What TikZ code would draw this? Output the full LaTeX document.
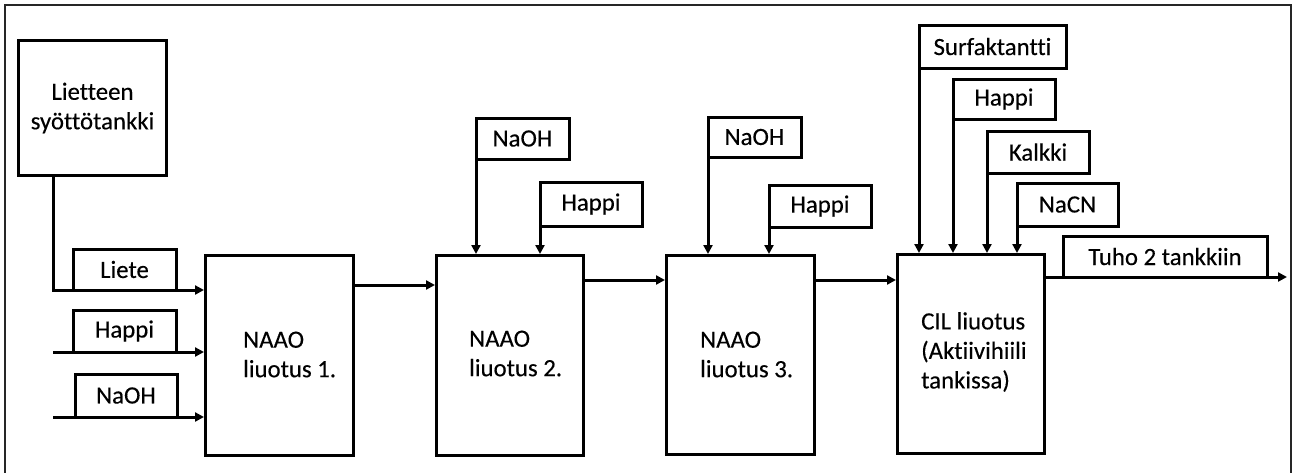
\documentclass[tikz,border=0pt]{standalone}
\usepackage{fontspec}
\setmainfont{Carlito}[Ligatures=NoCommon, FakeBold=0.3]
\usetikzlibrary{arrows.meta}
\begin{document}
\begin{tikzpicture}[x=1pt,y=-1pt,
  every node/.style={font=\fontsize{24.8}{29.5}\selectfont},
  procbox/.style={draw, line width=3pt, anchor=north west, inner sep=0},
  tag/.style={draw, line width=3pt, anchor=south west, inner sep=0, outer sep=0},
  txt/.style={anchor=west, align=left, inner sep=0},
  flow/.style={line width=3pt, -{Triangle[length=9pt,width=9pt]}},
  frame/.style={line width=2pt, draw=black!85}]
\useasboundingbox (0,0) rectangle (1294,472);

% outer frame
\draw[frame] (4.5,480) -- (4.5,4.5) -- (1291,4.5) -- (1291,480);

% feed tank and process units
\node[procbox, align=center, minimum width=148, minimum height=135] (tank) at (17,39) {Lietteen\\syöttötankki};
\node[procbox, minimum width=148, minimum height=200] (p1) at (204,254) {};
\node[procbox, minimum width=147, minimum height=200] (p2) at (435,254) {};
\node[procbox, minimum width=148, minimum height=199] (p3) at (665,254) {};
\node[procbox, minimum width=147, minimum height=199] (p4) at (896,253) {};

\node[txt] (t1) at (243,354.5) {NAAO\\liuotus 1.};
\node[txt] (t2) at (469,353.5) {NAAO\\liuotus 2.};
\node[txt] (t3) at (700,354.5) {NAAO\\liuotus 3.};
\node[txt] (t4) at (921,352) {CIL liuotus\\(Aktiivihiili\\tankissa)};

% stream labels
\node[tag, minimum width=103, minimum height=41] (liete)  at (73,290)   {Liete};
\node[tag, minimum width=103, minimum height=42] (happiA) at (73,352)   {Happi};
\node[tag, minimum width=102, minimum height=43] (naohA)  at (75,417)   {NaOH};
\node[tag, minimum width=93,  minimum height=41] (naohB)  at (476,159)  {NaOH};
\node[tag, minimum width=102, minimum height=44] (happiB) at (540,226)  {Happi};
\node[tag, minimum width=93,  minimum height=40] (naohC)  at (708,157)  {NaOH};
\node[tag, minimum width=102, minimum height=42] (happiC) at (769,227)  {Happi};
\node[tag, minimum width=147, minimum height=43] (surf)   at (919,68)   {Surfaktantti};
\node[tag, minimum width=102, minimum height=40] (happiD) at (953,119)  {Happi};
\node[tag, minimum width=102, minimum height=42] (kalkki) at (987,173)  {Kalkki};
\node[tag, minimum width=101, minimum height=43] (nacn)   at (1017,226) {NaCN};
\node[tag, minimum width=204, minimum height=41] (tuho)   at (1063,277) {Tuho 2 tankkiin};

% free ends and stream levels
\coordinate (inH) at (53,352);
\coordinate (inN) at (53,417);
\coordinate (l12) at (0,285);
\coordinate (l23) at (0,280);
\coordinate (outEnd) at (1287,277);

% side feeds into the first unit
\draw[flow] ([xshift=-39]tank.south) |- (p1.west |- liete.south);
\draw[flow] (inH) -- (p1.west |- inH);
\draw[flow] (inN) -- (p1.west |- inN);

% main slurry line
\draw[flow] (p1.east |- l12) -- (p2.west |- l12);
\draw[flow] (p2.east |- l23) -- (p3.west |- l23);
\draw[flow] (p3.east |- l23) -- (p4.west |- l23);
\draw[flow] (p4.east |- outEnd) -- (outEnd);

% reagent feeds from above
\draw[flow] (naohB.south west)  -- (naohB.south west  |- p2.north);
\draw[flow] (happiB.south west) -- (happiB.south west |- p2.north);
\draw[flow] (naohC.south west)  -- (naohC.south west  |- p3.north);
\draw[flow] (happiC.south west) -- (happiC.south west |- p3.north);
\draw[flow] (surf.south west)   -- (surf.south west   |- p4.north);
\draw[flow] (happiD.south west) -- (happiD.south west |- p4.north);
\draw[flow] (kalkki.south west) -- (kalkki.south west |- p4.north);
\draw[flow] (nacn.south west)   -- (nacn.south west   |- p4.north);
\end{tikzpicture}
\end{document}
